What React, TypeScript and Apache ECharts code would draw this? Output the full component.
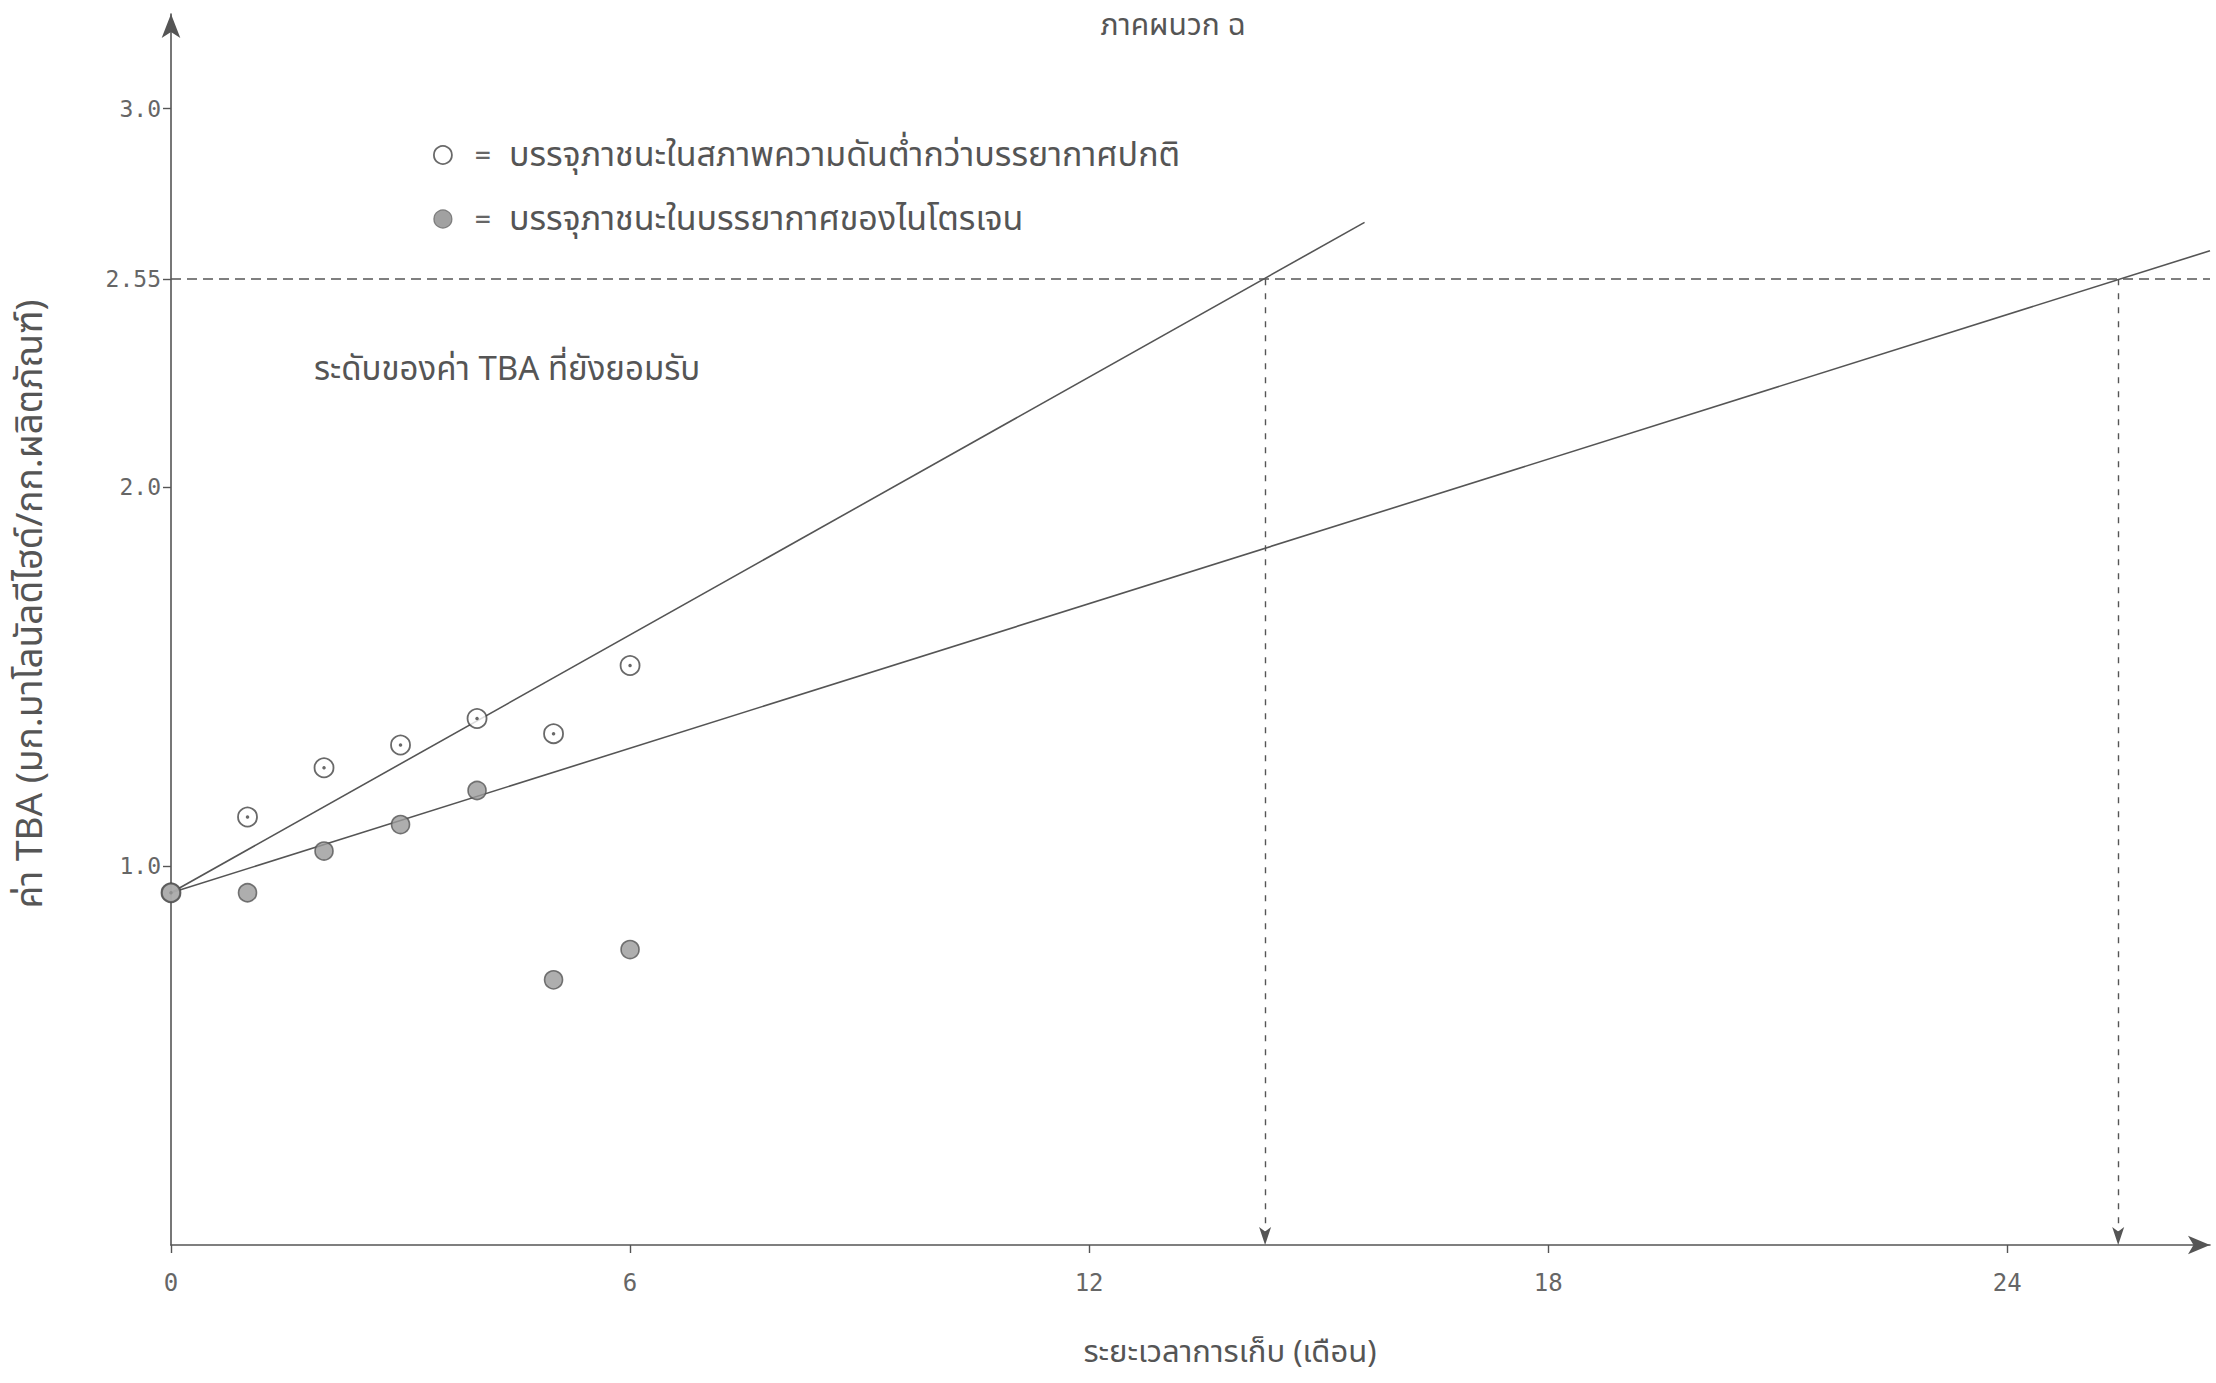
import React, { useEffect, useRef } from "react";
import * as echarts from "echarts";

const titleText = "ภาคผนวก ฉ";
const xAxisTitle = "ระยะเวลาการเก็บ (เดือน)";
const yAxisTitle = "ค่า TBA (มก.มาโลนัลดีไฮด์/กก.ผลิตภัณฑ์)";
const limitNote = "ระดับของค่า TBA ที่ยังยอมรับ";
const vacuumName = "บรรจุภาชนะในสภาพความดันต่ำกว่าบรรยากาศปกติ";
const nitrogenName = "บรรจุภาชนะในบรรยากาศของไนโตรเจน";

const months = [0, 1, 2, 3, 4, 5, 6];
const vacuumTBA = [0.93, 1.13, 1.26, 1.32, 1.39, 1.35, 1.53];
const nitrogenTBA = [0.93, 0.93, 1.04, 1.11, 1.2, 0.7, 0.78];

const vacuumFitX = [0, 15.6];
const vacuumFitY = [0.93, 2.7];
const nitrogenFitX = [0, 26.65];
const nitrogenFitY = [0.93, 2.625];

const acceptLimit = 2.55;
const shelfLifeVacuum = 14.3;
const shelfLifeNitrogen = 25.45;

const xTickValues = [0, 6, 12, 18, 24];
const yTickValues = [1.0, 2.0, 2.55, 3.0];
const yTickLabels = ["1.0", "2.0", "2.55", "3.0"];

const X_MAX = 26.65;
const Y_MAX = 3.25;

const INK = "#555";
const TEXT = "#666";
const THAI_FONT = "'Noto Sans Thai', 'Noto Sans', 'DejaVu Sans', sans-serif";
const NUM_FONT = "'DejaVu Sans Mono', 'Liberation Mono', monospace";

export default function App() {
  const ref = useRef<HTMLDivElement>(null);

  useEffect(() => {
    if (!ref.current) return;
    const chart = echarts.init(ref.current, null, { renderer: "svg" });

    const vacuumData = months.map((m, i) => [m, vacuumTBA[i]]);
    const nitrogenData = months.map((m, i) => [m, nitrogenTBA[i]]);
    const vacuumFit = vacuumFitX.map((x, i) => [x, vacuumFitY[i]]);
    const nitrogenFit = nitrogenFitX.map((x, i) => [x, nitrogenFitY[i]]);

    chart.setOption({
      animation: false,
      backgroundColor: "#ffffff",
      grid: { left: 171, right: 6, top: 14, bottom: 138, containLabel: false },
      legend: {
        data: [
          { name: vacuumName, icon: "circle", itemStyle: { color: "#fff", borderColor: "#444", borderWidth: 1.8 } },
          { name: nitrogenName, icon: "circle", itemStyle: { color: "#8a8a8a", borderColor: "#666", borderWidth: 1.2 } },
        ],
        orient: "vertical",
        left: 428,
        top: 133,
        itemWidth: 18,
        itemHeight: 18,
        itemGap: 30,
        selectedMode: false,
        formatter: (name: string) => `{eq|=}{n|${name}}`,
        textStyle: {
          rich: {
            eq: { width: 52, align: "center", fontSize: 26, color: TEXT, fontFamily: NUM_FONT },
            n: { fontSize: 34, color: "#555", fontFamily: THAI_FONT },
          },
        },
      },
      xAxis: {
        type: "value",
        min: 0,
        max: X_MAX,
        interval: 6,
        splitLine: { show: false },
        axisLine: {
          show: true,
          onZero: false,
          lineStyle: { color: INK, width: 1.6 },
          symbol: ["none", "arrow"],
          symbolSize: [14, 22],
        },
        axisTick: {
          show: true,
          length: 8,
          customValues: xTickValues,
          lineStyle: { color: INK, width: 1.4 },
        },
        axisLabel: {
          customValues: xTickValues,
          margin: 26,
          fontSize: 24,
          color: TEXT,
          fontFamily: NUM_FONT,
        },
      },
      yAxis: {
        type: "value",
        min: 0,
        max: Y_MAX,
        splitLine: { show: false },
        axisLine: {
          show: true,
          onZero: false,
          lineStyle: { color: INK, width: 1.6 },
          symbol: ["none", "arrow"],
          symbolSize: [14, 24],
        },
        axisTick: {
          show: true,
          length: 8,
          customValues: yTickValues,
          lineStyle: { color: INK, width: 1.4 },
        },
        axisLabel: {
          customValues: yTickValues,
          margin: 10,
          fontSize: 23,
          color: TEXT,
          fontFamily: NUM_FONT,
          formatter: (v: number) => {
            const idx = yTickValues.findIndex((t) => Math.abs(t - v) < 1e-6);
            return idx >= 0 ? yTickLabels[idx] : "";
          },
        },
      },
      graphic: [
        {
          type: "text",
          x: 1173,
          y: 26,
          style: {
            text: titleText,
            fontSize: 30,
            fill: "#555",
            fontFamily: THAI_FONT,
            align: "center",
            verticalAlign: "middle",
          },
        },
        {
          type: "text",
          x: 314,
          y: 370,
          style: {
            text: limitNote,
            fontSize: 33,
            fill: "#555",
            fontFamily: THAI_FONT,
            align: "left",
            verticalAlign: "middle",
          },
        },
        {
          type: "text",
          x: 1230,
          y: 1352,
          style: {
            text: xAxisTitle,
            fontSize: 31,
            fill: "#555",
            fontFamily: THAI_FONT,
            align: "center",
            verticalAlign: "middle",
          },
        },
        {
          type: "text",
          x: 31,
          y: 604,
          rotation: Math.PI / 2,
          style: {
            text: yAxisTitle,
            fontSize: 37,
            fill: "#555",
            fontFamily: THAI_FONT,
            align: "center",
            verticalAlign: "middle",
          },
        },
      ],
      series: [
        {
          name: "vacuumFit",
          type: "line",
          data: vacuumFit,
          showSymbol: false,
          silent: true,
          lineStyle: { color: INK, width: 1.6 },
          markLine: {
            silent: true,
            symbol: ["none", "none"],
            label: { show: false },
            lineStyle: { color: INK, width: 1.6, type: [10, 6] },
            data: [[{ coord: [0, acceptLimit] }, { coord: [X_MAX, acceptLimit] }]],
          },
        },
        {
          name: "nitrogenFit",
          type: "line",
          data: nitrogenFit,
          showSymbol: false,
          silent: true,
          lineStyle: { color: INK, width: 1.6 },
          markLine: {
            silent: true,
            symbol: ["none", "arrow"],
            symbolSize: [9, 18],
            label: { show: false },
            lineStyle: { color: INK, width: 1.4, type: [6, 8] },
            data: [
              [{ coord: [shelfLifeVacuum, acceptLimit] }, { coord: [shelfLifeVacuum, 0] }],
              [{ coord: [shelfLifeNitrogen, acceptLimit] }, { coord: [shelfLifeNitrogen, 0] }],
            ],
          },
        },
        {
          name: vacuumName,
          type: "scatter",
          data: vacuumData,
          symbol: "circle",
          symbolSize: 19,
          itemStyle: { color: "#fff", borderColor: "#444", borderWidth: 1.8 },
          z: 3,
        },
        {
          name: "vacuumDot",
          type: "scatter",
          data: vacuumData,
          symbol: "circle",
          symbolSize: 3.5,
          silent: true,
          itemStyle: { color: "#444" },
          z: 4,
        },
        {
          name: nitrogenName,
          type: "scatter",
          data: nitrogenData,
          symbol: "circle",
          symbolSize: 18,
          itemStyle: { color: "#9a9a9a", borderColor: "#555", borderWidth: 1.6 },
          z: 5,
        },
      ],
    });

    return () => chart.dispose();
  }, []);

  return (
    <div
      ref={ref}
      style={{ position: "absolute", left: 0, top: 0, width: 2216, height: 1383, background: "#fff" }}
    />
  );
}
